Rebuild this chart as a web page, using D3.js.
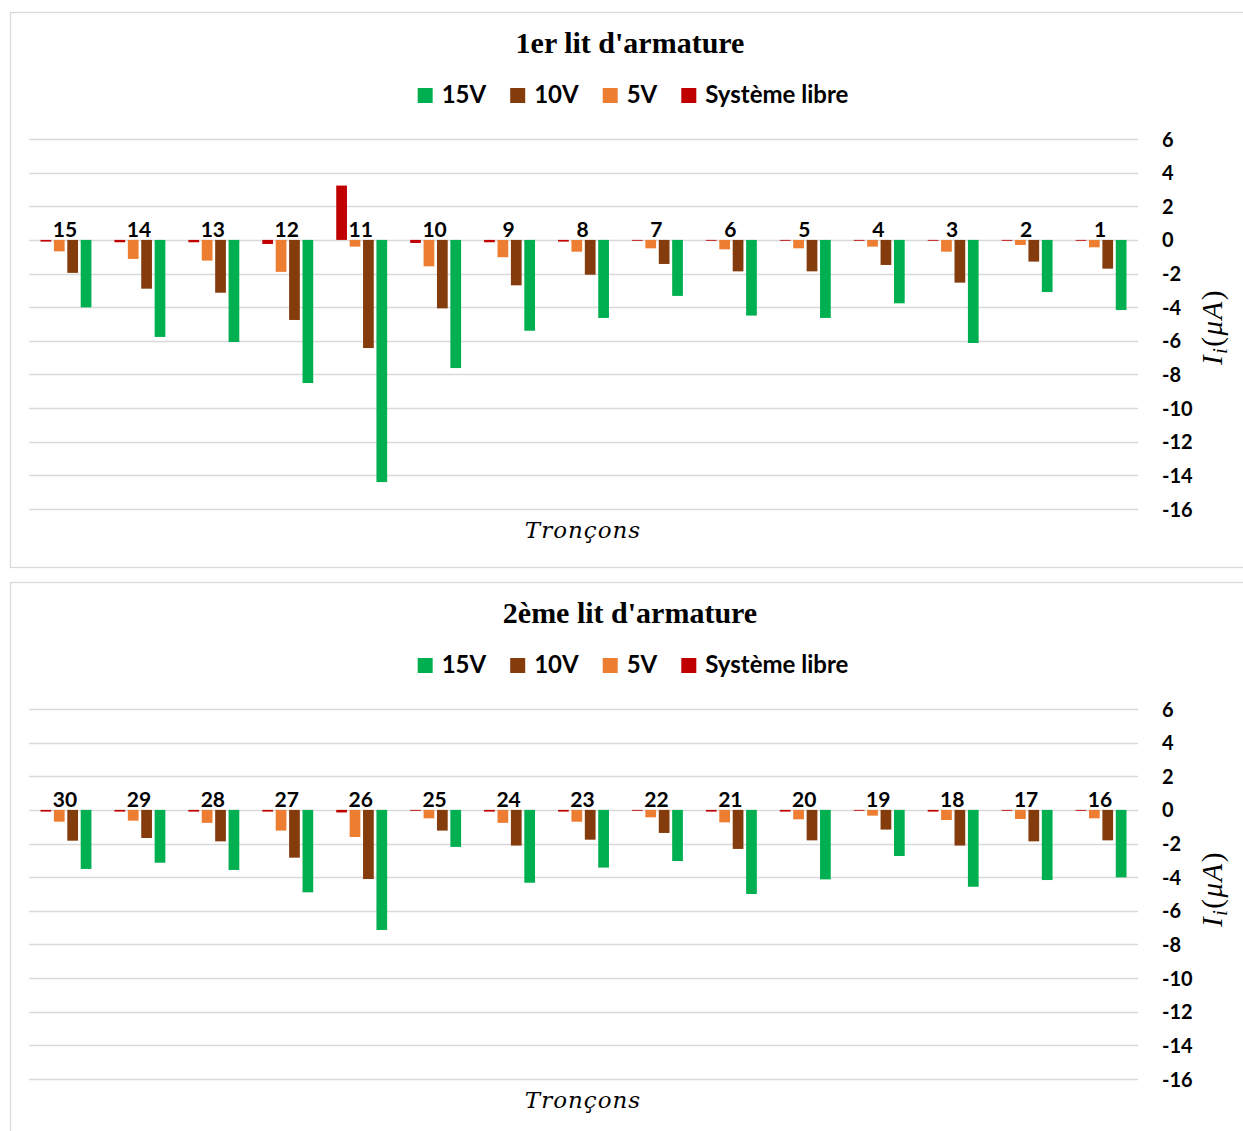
<!DOCTYPE html>
<html>
<head>
<meta charset="utf-8">
<script src="https://cdn.jsdelivr.net/npm/d3@7"></script>
<style>
  html, body { margin: 0; padding: 0; background: #ffffff; }
  svg { display: block; }
</style>
</head>
<body>
<script>
// ---------- data ----------
const seriesNames = ["Système libre", "5V", "10V", "15V"];          // order inside each group
const legendNames = ["15V", "10V", "5V", "Système libre"];          // legend order
const seriesColors = ["#C00000", "#ED7D31", "#843C0C", "#00B050"];
const yTicks = [6, 4, 2, 0, -2, -4, -6, -8, -10, -12, -14, -16];

const titles = ["1er lit d'armature", "2ème lit d'armature"];
const xTitle = "Tronçons";

const categories1 = ["15","14","13","12","11","10","9","8","7","6","5","4","3","2","1"];
const libre1 = [-0.1, -0.14, -0.14, -0.24, 3.23, -0.18, -0.14, -0.1, -0.05, -0.05, -0.05, -0.05, -0.05, -0.05, -0.05];
const v5_1   = [-0.68, -1.13, -1.23, -1.9, -0.4, -1.57, -1.03, -0.7, -0.5, -0.56, -0.5, -0.4, -0.7, -0.3, -0.44];
const v10_1  = [-1.96, -2.9, -3.14, -4.76, -6.43, -4.07, -2.7, -2.07, -1.43, -1.87, -1.87, -1.49, -2.54, -1.29, -1.71];
const v15_1  = [-4.01, -5.77, -6.07, -8.51, -14.4, -7.62, -5.4, -4.64, -3.33, -4.5, -4.64, -3.77, -6.13, -3.1, -4.17];

const categories2 = ["30","29","28","27","26","25","24","23","22","21","20","19","18","17","16"];
const libre2 = [-0.1, -0.1, -0.1, -0.1, -0.15, -0.05, -0.1, -0.1, -0.05, -0.1, -0.1, -0.05, -0.1, -0.05, -0.05];
const v5_2   = [-0.7, -0.64, -0.77, -1.23, -1.61, -0.5, -0.77, -0.7, -0.44, -0.74, -0.56, -0.34, -0.6, -0.54, -0.5];
const v10_2  = [-1.83, -1.67, -1.87, -2.84, -4.11, -1.23, -2.12, -1.77, -1.37, -2.32, -1.81, -1.17, -2.12, -1.87, -1.81];
const v15_2  = [-3.51, -3.14, -3.57, -4.9, -7.14, -2.2, -4.33, -3.43, -3.04, -5.0, -4.13, -2.74, -4.57, -4.17, -4.01];

// ---------- layout ----------
const W = 1243, H = 1131;
const sansBold = "Lato, 'Open Sans', sans-serif";
const svg = d3.select("body").append("svg").attr("width", W).attr("height", H);

const panels = [
  { top: 12,  bottom: 567, title: titles[0], cats: categories1, vals: [libre1, v5_1, v10_1, v15_1], yTitleC: 327 },
  { top: 582, bottom: 1140, title: titles[1], cats: categories2, vals: [libre2, v5_2, v10_2, v15_2], yTitleC: 889 }
];

panels.forEach(p => {
  const g = svg.append("g");
  // panel frame
  g.append("rect")
    .attr("x", 10.5).attr("y", p.top + 0.5)
    .attr("width", W + 20).attr("height", p.bottom - p.top)
    .attr("fill", "#fff").attr("stroke", "#d9d9d9").attr("stroke-width", 1.3);

  const plotTop = p.top + 127, plotBottom = p.top + 497;
  const y = d3.scaleLinear().domain([-16, 6]).range([plotBottom, plotTop]);
  const x0 = d3.scaleBand().domain(p.cats).range([29, 1138]).paddingInner(0.275).paddingOuter(0.1375);
  const x1 = d3.scaleBand().domain(seriesNames).range([0, x0.bandwidth()]).paddingInner(0.2).paddingOuter(0.1);

  // gridlines
  g.append("g").selectAll("line").data(yTicks).join("line")
    .attr("x1", 29).attr("x2", 1138)
    .attr("y1", d => Math.round(y(d)) + 0.5).attr("y2", d => Math.round(y(d)) + 0.5)
    .attr("stroke", "#d9d9d9").attr("stroke-width", 1.6);

  // right axis tick labels
  const yAxis = d3.axisRight(y).tickValues(yTicks).tickSize(0).tickPadding(0).tickFormat(d => String(d));
  const ax = g.append("g").attr("transform", "translate(1162,0)").call(yAxis);
  ax.select(".domain").remove();
  ax.selectAll("text")
    .attr("font-family", sansBold).attr("font-weight", 700).attr("font-size", 20)
    .attr("fill", "#000").attr("text-anchor", "start").attr("dy", "0.35em");

  // bars
  const groups = g.append("g").selectAll("g").data(p.cats).join("g")
    .attr("transform", d => `translate(${x0(d)},0)`);
  groups.selectAll("rect")
    .data((c, ci) => seriesNames.map((s, si) => ({ s, si, v: p.vals[si][ci] })))
    .join("rect")
    .attr("x", d => x1(d.s))
    .attr("width", x1.bandwidth())
    .attr("y", d => Math.min(y(0), y(d.v)))
    .attr("height", d => Math.abs(y(d.v) - y(0)))
    .attr("fill", d => seriesColors[d.si]);

  // category labels (above zero line)
  g.append("g").selectAll("text").data(p.cats).join("text")
    .attr("x", d => x0(d) + x0.bandwidth() / 2 - 1)
    .attr("y", y(0) - 3)
    .attr("text-anchor", "middle")
    .attr("font-family", sansBold).attr("font-weight", 700).attr("font-size", 21)
    .attr("fill", "#000")
    .text(d => d);

  // title
  g.append("text")
    .attr("x", 630).attr("y", p.top + 41)
    .attr("text-anchor", "middle")
    .attr("font-family", "'Liberation Serif', 'Times New Roman', serif")
    .attr("font-weight", 700).attr("font-size", 30).attr("fill", "#000")
    .text(p.title);

  // legend
  const lg = g.append("g");
  const items = lg.selectAll("g").data(legendNames).join("g");
  items.append("rect")
    .attr("width", 15).attr("height", 15)
    .attr("y", p.top + 76)
    .attr("fill", d => seriesColors[seriesNames.indexOf(d)]);
  items.append("text")
    .attr("y", p.top + 91)
    .attr("font-family", sansBold).attr("font-weight", 700).attr("font-size", 24)
    .attr("fill", "#000")
    .text(d => d);
  let widths = [];
  items.select("text").each(function () { widths.push(this.getComputedTextLength()); });
  const gapSq = 9, gapItem = 24, sq = 15;
  const total = d3.sum(widths) + legendNames.length * (sq + gapSq) + (legendNames.length - 1) * gapItem;
  let cx = 633 - total / 2;
  items.each(function (d, i) {
    const it = d3.select(this);
    it.select("rect").attr("x", cx);
    it.select("text").attr("x", cx + sq + gapSq);
    cx += sq + gapSq + widths[i] + gapItem;
  });

  // x title
  g.append("text")
    .attr("x", 583).attr("y", p.top + 526)
    .attr("text-anchor", "middle")
    .attr("font-family", "'DejaVu Serif', serif")
    .attr("font-style", "italic").attr("font-size", 23).attr("letter-spacing", 1)
    .attr("fill", "#000")
    .text(xTitle);

  // y title  I_i(μA)
  const yt = g.append("text")
    .attr("transform", `translate(1222,${p.yTitleC}) rotate(-90)`)
    .attr("text-anchor", "middle")
    .attr("font-family", "'Liberation Serif', 'Times New Roman', serif")
    .attr("font-size", 29).attr("fill", "#000").attr("letter-spacing", 1.5);
  yt.append("tspan").attr("font-style", "italic").text("I");
  yt.append("tspan").attr("font-style", "italic").attr("font-size", 20).attr("dy", 5).text("i");
  yt.append("tspan").attr("dy", -5).text("(");
  yt.append("tspan").attr("font-style", "italic").text("μA");
  yt.append("tspan").text(")");
});
</script>
</body>
</html>
